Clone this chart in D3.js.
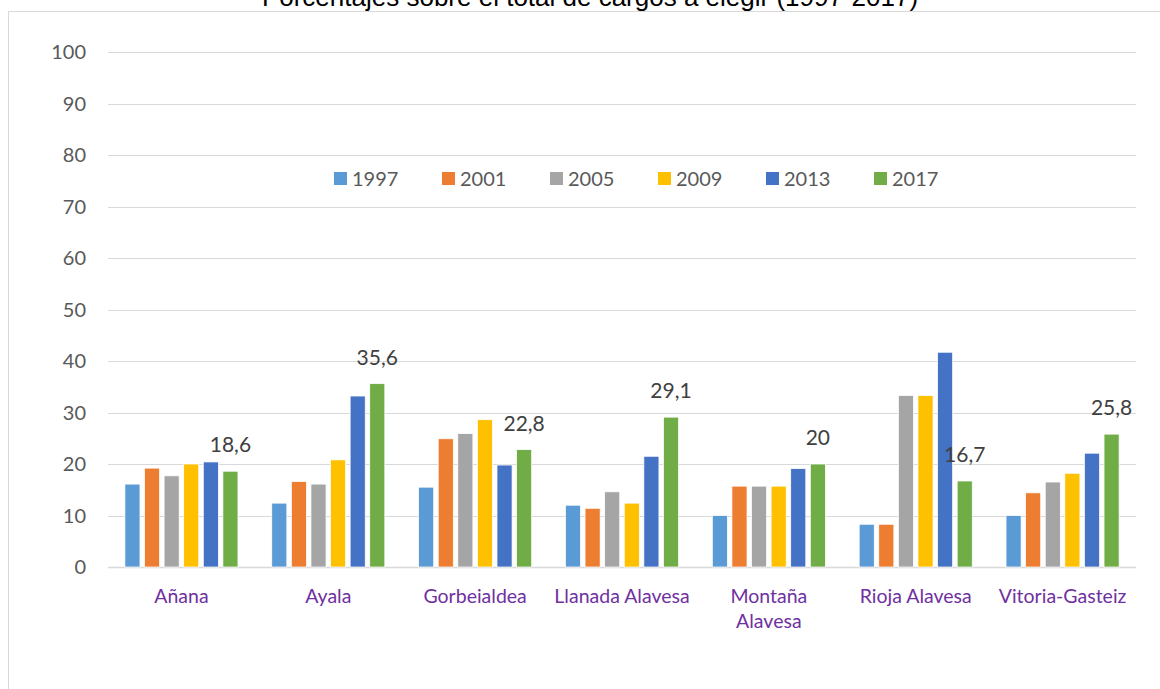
<!DOCTYPE html>
<html>
<head>
<meta charset="utf-8">
<script src="https://cdn.jsdelivr.net/npm/d3@7"></script>
<style>
  body { margin: 0; background: #fff; }
  svg { display: block; }
</style>
</head>
<body>
<script>
// data
var categories = ['Añana', 'Ayala', 'Gorbeialdea', 'Llanada Alavesa', 'Montaña Alavesa', 'Rioja Alavesa', 'Vitoria-Gasteiz'];
var years = ['1997', '2001', '2005', '2009', '2013', '2017'];
var v1997 = [16.1, 12.4, 15.5, 12.0, 10.0, 8.3, 10.0];
var v2001 = [19.2, 16.6, 24.9, 11.4, 15.7, 8.3, 14.4];
var v2005 = [17.7, 16.1, 25.9, 14.6, 15.7, 33.3, 16.5];
var v2009 = [20.0, 20.8, 28.6, 12.4, 15.7, 33.3, 18.2];
var v2013 = [20.4, 33.2, 19.8, 21.5, 19.1, 41.7, 22.1];
var v2017 = [18.6, 35.6, 22.8, 29.1, 20.0, 16.7, 25.8];
var yTicks = [0, 10, 20, 30, 40, 50, 60, 70, 80, 90, 100];
var colors = ['#5b9bd5', '#ed7d31', '#a5a5a5', '#ffc000', '#4472c4', '#70ad47'];

var series = [v1997, v2001, v2005, v2009, v2013, v2017];

// size
var W = 1160, H = 689;
var plot = { left: 108, right: 1136, top: 52, bottom: 567 };

var svg = d3.select('body').append('svg')
    .attr('width', W)
    .attr('height', H);

// chart frame
svg.append('rect')
    .attr('x', 8.5).attr('y', 11.5)
    .attr('width', W + 20).attr('height', H + 20)
    .attr('fill', 'none')
    .attr('stroke', '#d9d9d9');

// title (sits at the very top, partly cut like the original)
svg.append('text')
    .attr('x', 590).attr('y', 6)
    .attr('text-anchor', 'middle')
    .style('font-family', '"Liberation Sans", Arial, sans-serif')
    .style('font-size', '26px')
    .attr('fill', '#000')
    .text('Porcentajes sobre el total de cargos a elegir (1997-2017)');

// scales
var x0 = d3.scaleBand().domain(categories).range([plot.left, plot.right])
    .paddingInner(0.23).paddingOuter(0.115);
var x1 = d3.scaleBand().domain(years).range([0, x0.bandwidth()]).paddingInner(0.23);
var y = d3.scaleLinear().domain([0, 100]).range([plot.bottom, plot.top]);

// grid
svg.append('g').selectAll('line').data(yTicks).enter().append('line')
    .attr('x1', plot.left).attr('x2', plot.right)
    .attr('y1', function(d) { return Math.round(y(d)) + 0.5; })
    .attr('y2', function(d) { return Math.round(y(d)) + 0.5; })
    .attr('stroke', '#d9d9d9')
    .attr('stroke-width', function(d) { return d === 0 ? 1.5 : 1; });

// y labels
svg.append('g').selectAll('text').data(yTicks).enter().append('text')
    .attr('x', 86)
    .attr('y', function(d) { return y(d) + 7; })
    .attr('text-anchor', 'end')
    .style('font-family', 'Lato, "Open Sans", sans-serif')
    .style('font-size', '20px')
    .attr('fill', '#595959')
    .text(function(d) { return d; });

// bars
var groups = svg.append('g').selectAll('g').data(categories).enter().append('g')
    .attr('transform', function(d) { return 'translate(' + x0(d) + ',0)'; });

groups.selectAll('rect')
    .data(function(c, ci) {
        return years.map(function(yr, si) { return { year: yr, si: si, value: series[si][ci] }; });
    })
    .enter().append('rect')
    .attr('x', function(d) { return x1(d.year); })
    .attr('y', function(d) { return y(d.value); })
    .attr('width', x1.bandwidth())
    .attr('height', function(d) { return y(0) - y(d.value); })
    .attr('fill', function(d) { return colors[d.si]; })
    .attr('stroke', '#fff')
    .attr('stroke-width', 0.75);

// data labels for 2017
groups.append('text')
    .attr('x', function() { return x1('2017') + x1.bandwidth() / 2; })
    .attr('y', function(c, ci) { return y(v2017[ci]) - 19; })
    .attr('text-anchor', 'middle')
    .style('font-family', 'Lato, "Open Sans", sans-serif')
    .style('font-size', '21px')
    .attr('fill', '#404040')
    .text(function(c, ci) { return String(v2017[ci]).replace('.', ','); });

// category labels
var catLabels = svg.append('g').selectAll('text').data(categories).enter().append('text')
    .attr('x', function(d) { return x0(d) + x0.bandwidth() / 2; })
    .attr('y', 603)
    .attr('text-anchor', 'middle')
    .style('font-family', 'Lato, "Open Sans", sans-serif')
    .style('font-size', '19.5px')
    .attr('fill', '#7030a0');

catLabels.each(function(d) {
    var t = d3.select(this);
    var lines = d === 'Montaña Alavesa' ? ['Montaña', 'Alavesa'] : [d];
    lines.forEach(function(l, i) {
        t.append('tspan')
            .attr('x', x0(d) + x0.bandwidth() / 2)
            .attr('dy', i === 0 ? 0 : 25)
            .text(l);
    });
});

// legend
var legend = svg.append('g').selectAll('g').data(years).enter().append('g')
    .attr('transform', function(d, i) { return 'translate(' + (334 + i * 108) + ',172)'; });

legend.append('rect')
    .attr('width', 13).attr('height', 13)
    .attr('fill', function(d, i) { return colors[i]; });

legend.append('text')
    .attr('x', 18).attr('y', 14)
    .style('font-family', 'Lato, "Open Sans", sans-serif')
    .style('font-size', '20px')
    .attr('fill', '#595959')
    .text(function(d) { return d; });
</script>
</body>
</html>
